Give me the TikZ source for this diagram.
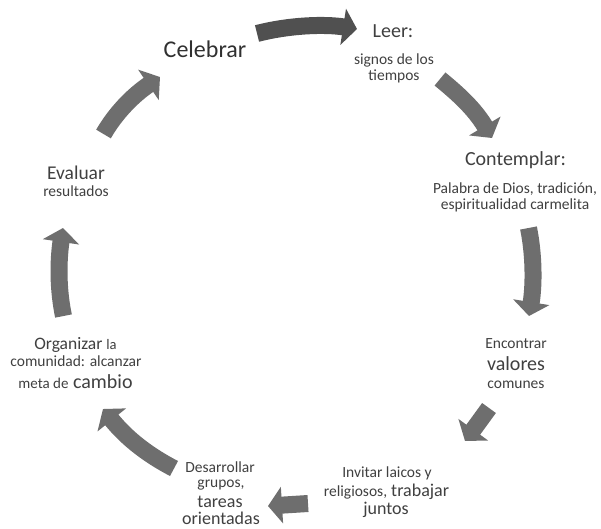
\documentclass[tikz,border=0pt]{standalone}
\usepackage{fontspec}
\setmainfont{Carlito}
\usetikzlibrary{arrows.meta}
\definecolor{txtc}{HTML}{404040}
\definecolor{txtd}{HTML}{303030}
\definecolor{arrc}{HTML}{6E6E6E}
\definecolor{arrd}{HTML}{505050}
\begin{document}
\begin{tikzpicture}[x=1pt,y=-1pt,
  lbl/.style={anchor=base,inner sep=0pt,text=txtc},
  sm/.style={lbl,font=\fontsize{15.5}{18}\selectfont},
  md/.style={lbl,font=\fontsize{18}{21}\selectfont},
  lg/.style={lbl,font=\fontsize{20}{24}\selectfont},
  blk/.style={draw=#1,line width=17pt,line cap=butt,
    -{Triangle[length=14pt,width=36pt]}},
  blk/.default=arrc]
\fill[white] (0,0) rectangle (601,528);
\useasboundingbox (0,0) rectangle (601,528);

% labels
\node[lbl,text=txtd,font=\fontsize{24}{29}\selectfont] (celebrar) at (205,57.5) {Celebrar};
\node[lg] (leer) at (393,37) {Leer:};
\node[sm] (signos) at (394,64) {signos de los};
\node[sm] (tiempos) at (394,80) {tiempos};
\node[lg] (contemplar) at (515.5,165) {Contemplar:};
\node[sm] (palabra) at (515,193) {Palabra de Dios, tradición,};
\node[sm] (espir) at (515,209) {espiritualidad carmelita};
\node[sm] (encontrar) at (516,348.5) {Encontrar};
\node[lg] (valores) at (516,370) {valores};
\node[sm] (comunes) at (516,388) {comunes};
\node[sm] (invitar) at (387,477) {Invitar laicos y};
\node[md] (religiosos) at (386.5,496) {{\fontsize{15.5}{18}\selectfont religiosos,} trabajar};
\node[md] (juntos) at (386,514) {juntos};
\node[sm] (desarrollar) at (220,472) {Desarrollar};
\node[sm] (grupos) at (221,487) {grupos,};
\node[md] (tareas) at (220,507.5) {tareas};
\node[md] (orientadas) at (221,524.5) {orientadas};
\node[lbl,font=\fontsize{19.5}{23}\selectfont] (evaluar) at (76,179) {Evaluar};
\node[sm] (resultados) at (76,196) {resultados};
\node[lbl,font=\fontsize{17.5}{21}\selectfont] (organizar) at (75.5,349) {Organizar {\fontsize{14.5}{17}\selectfont la}};
\node[sm] (comunidad) at (76,366) {comunidad: alcanzar};
\node[lg] (meta) at (75.5,388) {{\fontsize{15}{18}\selectfont meta de} cambio};

% arrow end points
\coordinate (a1s) at (257,33.5);  \coordinate (a1e) at (357,29);
\coordinate (a2s) at (440,79);    \coordinate (a2e) at (492,138);
\coordinate (a3s) at (528.5,228); \coordinate (a3e) at (529,316);
\coordinate (a4s) at (489,408);   \coordinate (a4e) at (465,441);
\coordinate (a5s) at (308,503.5); \coordinate (a5e) at (268,506);
\coordinate (a6s) at (174,468.5); \coordinate (a6e) at (103,409);
\coordinate (a7s) at (63.5,316);  \coordinate (a7e) at (63,228);
\coordinate (a8s) at (103.5,134); \coordinate (a8e) at (160,77);

% block arrows
\draw[blk=arrd] (a1s) .. controls (290,25) and (325,24) .. (a1e);
\draw[blk] (a2s) .. controls (457,93) and (474,108) .. (a2e);
\draw[blk] (a3s) .. controls (534,255) and (534,285) .. (a3e);
\draw[blk] (a4s) -- (a4e);
\draw[blk] (a5s) -- (a5e);
\draw[blk] (a6s) .. controls (150,456) and (128,440) .. (a6e);
\draw[blk] (a7s) .. controls (58,290) and (58,262) .. (a7e);
\draw[blk] (a8s) .. controls (115,114) and (132,96) .. (a8e);
\end{tikzpicture}
\end{document}
